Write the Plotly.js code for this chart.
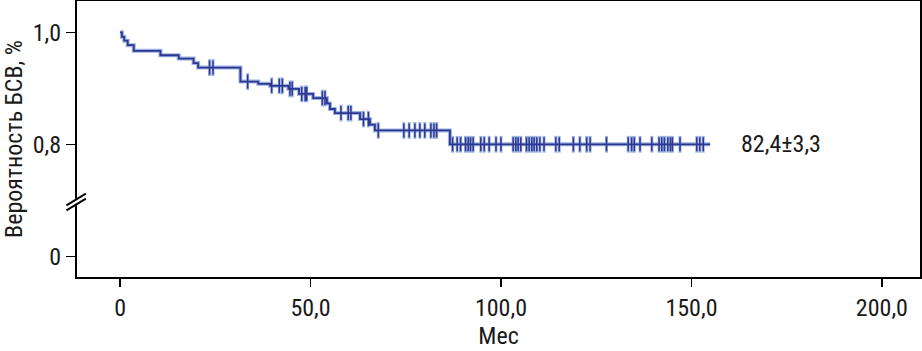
<!DOCTYPE html>
<html>
<head>
<meta charset="utf-8">
<script src="https://cdn.plot.ly/plotly-3.0.1.min.js"></script>
<style>html,body{margin:0;padding:0;background:#fff}#chart{width:922px;height:351px}</style>
</head>
<body>
<div id="chart"></div>
<script>
// Kaplan–Meier steps: time (months) and survival after each event
const eventTimes = [0, 0.5, 1.1, 2.0, 3.6, 10.6, 15.4, 19.3, 20.5, 31.6, 36.3, 39.4, 44.2, 47.0, 50.7, 54.3, 55.1, 56.4, 63.0, 65.6, 66.9, 86.6];
const eventSurv  = [1.0, 0.992, 0.985, 0.977, 0.967, 0.959, 0.953, 0.945, 0.937, 0.912, 0.908, 0.9045, 0.899, 0.890, 0.8825, 0.873, 0.863, 0.8557, 0.845, 0.835, 0.8247, 0.800];
const lastFollowUp = 154.9;
// censored observations (months)
const censorTimes = [23.5, 24.4, 33.5, 39.8, 41.8, 42.6, 44.6, 45.2, 47.7, 48.6, 49.0, 53.1, 53.8,
  58.0, 59.9, 60.6, 63.9, 65.2, 67.8, 74.5, 75.9, 77.4, 78.7, 80.0, 81.6, 82.4, 83.1,
  87.3, 88.5, 89.4, 90.7, 91.4, 92.0, 92.7, 94.7, 95.6, 96.9, 98.7, 100.0, 103.2, 103.9, 104.5,
  105.2, 106.7, 107.4, 108.1, 108.7, 109.4, 110.2, 111.3, 114.4, 115.3, 119.0, 120.7, 122.5,
  123.4, 127.7, 133.4, 134.3, 135.0, 136.5, 139.6, 141.5, 142.2, 142.9, 143.8, 144.5, 145.0,
  147.0, 151.4, 152.2, 153.1];
const yTickVals = [0.6, 0.8, 1.0];
const yTickText = ["0", "0,8", "1,0"];
const xTickVals = [0, 50, 100, 150, 200];
const xTickText = ["0", "50,0", "100,0", "150,0", "200,0"];
const survLabel = "82,4±3,3";

const stepX = eventTimes.concat([lastFollowUp]);
const stepY = eventSurv.concat([eventSurv[eventSurv.length - 1]]);
function survAt(t) {
  let s = eventSurv[0];
  for (let i = 0; i < eventTimes.length; i++) if (eventTimes[i] <= t) s = eventSurv[i];
  return s;
}
const censorY = censorTimes.map(survAt);

const dark = '#2f3690';
const light = '#9bb3e2';
const FONT = '"Liberation Sans Narrow", "Roboto Condensed", "DejaVu Sans Condensed", sans-serif';

const traces = [
  {x: stepX, y: stepY, mode: 'lines', line: {shape: 'hv', color: light, width: 4}, showlegend: false},
  {x: censorTimes, y: censorY, mode: 'markers', marker: {symbol: 'line-ns-open', size: 12, color: light, line: {color: light, width: 3}}, showlegend: false},
  {x: stepX, y: stepY, mode: 'lines', line: {shape: 'hv', color: dark, width: 1.8}, showlegend: false},
  {x: censorTimes, y: censorY, mode: 'markers', marker: {symbol: 'line-ns-open', size: 10, color: dark, line: {color: dark, width: 1.5}}, showlegend: false}
];

const yBreak = (277 - 202) / 276;
const layout = {
  width: 922, height: 351,
  margin: {l: 77, r: 2, t: 1, b: 74},
  paper_bgcolor: '#fff', plot_bgcolor: '#fff',
  font: {family: FONT, size: 24, color: '#1a1a1a'},
  showlegend: false,
  xaxis: {
    range: [-11.3, 210], tickvals: xTickVals, ticktext: xTickText,
    showgrid: false, zeroline: false, showline: true, mirror: true, linecolor: '#000', linewidth: 2,
    ticks: 'outside', ticklen: 8, tickwidth: 1.5, tickcolor: '#000',
    tickfont: {family: FONT, size: 24, color: '#1a1a1a'},
    title: {text: 'Мес', font: {family: FONT, size: 24, color: '#1a1a1a'}, standoff: 2}
  },
  yaxis: {
    range: [0.563, 1.0559], tickvals: yTickVals, ticktext: yTickText,
    showgrid: false, zeroline: false, showline: true, mirror: true, linecolor: '#000', linewidth: 2,
    ticks: 'outside', ticklen: 9, tickwidth: 1.5, tickcolor: '#000',
    tickfont: {family: FONT, size: 24, color: '#1a1a1a'},
    title: {text: 'Вероятность БСВ, %', font: {family: FONT, size: 24, color: '#1a1a1a'}, standoff: 8}
  },
  annotations: [
    {x: 162.5, y: 0.8, xref: 'x', yref: 'y', text: survLabel, showarrow: false, xanchor: 'left', yanchor: 'middle',
     font: {family: FONT, size: 24, color: '#1a1a1a'}}
  ],
  shapes: [
    {type: 'rect', xref: 'paper', yref: 'paper', x0: -0.004, x1: 0.004, y0: yBreak - 0.012, y1: yBreak + 0.012, fillcolor: '#fff', line: {width: 0}},
    {type: 'line', xref: 'paper', yref: 'paper', x0: -0.0125, x1: 0.0105, y0: yBreak - 0.03, y1: yBreak + 0.012, line: {color: '#000', width: 2}},
    {type: 'line', xref: 'paper', yref: 'paper', x0: -0.0125, x1: 0.0105, y0: yBreak - 0.012, y1: yBreak + 0.03, line: {color: '#000', width: 2}}
  ]
};

Plotly.newPlot('chart', traces, layout, {displayModeBar: false, staticPlot: true});
</script>
</body>
</html>
